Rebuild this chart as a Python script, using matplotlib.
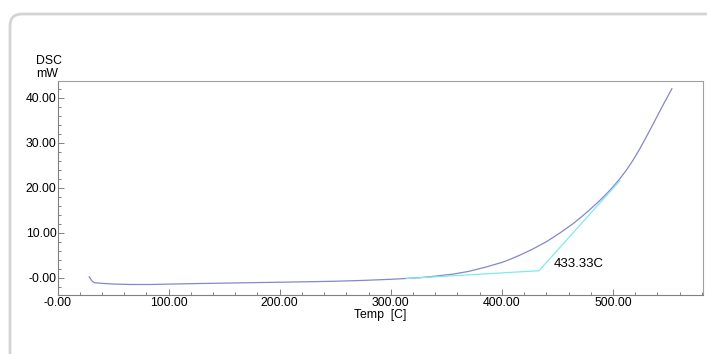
import matplotlib
matplotlib.use("Agg")
import matplotlib.pyplot as plt
from matplotlib.patches import FancyBboxPatch
from matplotlib.ticker import MultipleLocator
from matplotlib.transforms import IdentityTransform

# DSC curve
temp = [28.5, 31, 33, 40, 50, 65, 85, 100, 125, 150, 175, 200, 225, 250, 275,
        300, 315, 326, 340, 356, 370, 386, 400, 408, 416, 428, 440, 452, 464,
        472, 479, 487, 494, 500, 506, 512, 518, 524, 530, 536, 544, 553]
dsc = [0.2, -0.7, -1.1, -1.25, -1.4, -1.5, -1.5, -1.42, -1.3, -1.2, -1.1, -1.0,
       -0.9, -0.78, -0.6, -0.35, -0.15, 0.0, 0.35, 0.8, 1.4, 2.4, 3.4, 4.15,
       5.0, 6.4, 8.0, 9.9, 12.0, 13.6, 15.1, 16.9, 18.6, 20.2, 21.95, 23.9,
       26.1, 28.6, 31.3, 34.1, 37.9, 42.0]

# onset construction (baseline + tangent)
onset_t = [314, 433.33, 506]
onset_v = [-0.17, 1.55, 21.5]
onset_label = "433.33C"

x_ticks = [0, 100, 200, 300, 400, 500]
y_ticks = [0, 10, 20, 30, 40]

plt.rcParams["font.family"] = ["Liberation Sans", "DejaVu Sans"]

fig = plt.figure(figsize=(7.07, 3.54), dpi=100)
ax = fig.add_axes([57.5 / 707, 59 / 354, (703 - 57.5) / 707, (295 - 80.7) / 354])

# light rounded frame around the panel
frame = FancyBboxPatch((10, -60), 820, 354 - 14 + 60,
                       boxstyle="round,pad=0,rounding_size=12",
                       transform=IdentityTransform(), fill=False,
                       edgecolor="#d4d4d4", linewidth=2.0, zorder=-1)
fig.patches.append(frame)

ax.plot(temp, dsc, color="#8686cc", linewidth=0.9)
ax.plot(onset_t, onset_v, color="#7fe8f4", linewidth=0.9)
ax.text(447, 3.0, onset_label, fontsize=9.5, ha="left", va="center")

ax.set_xlim(0, 581)
ax.set_ylim(-3.84, 43.78)
ax.set_xticks(x_ticks)
ax.set_yticks(y_ticks)
ax.xaxis.set_minor_locator(MultipleLocator(20))
ax.yaxis.set_minor_locator(MultipleLocator(2))
ax.set_xticklabels(["-0.00"] + [f"{v:.2f}" for v in x_ticks[1:]])
ax.set_yticklabels(["-0.00"] + [f"{v:.2f}" for v in y_ticks[1:]])

for s in ax.spines.values():
    s.set_color("#a0a0a0")
    s.set_linewidth(0.8)
ax.spines["left"].set_color("#808080")
ax.spines["bottom"].set_color("#808080")

ax.tick_params(which="major", direction="in", length=4, width=0.7,
               color="#808080", labelsize=8.8, pad=1.5)
ax.tick_params(which="minor", direction="in", length=2.5, width=0.7,
               color="#808080")
ax.tick_params(axis="y", pad=0.8)

ax.set_xlabel("Temp  [C]", fontsize=8.8, labelpad=0)
fig.text(49 / 707, 1 - 61 / 354, "DSC", fontsize=8.8, ha="center", va="center")
fig.text(47 / 707, 1 - 74 / 354, "mW", fontsize=8.8, ha="center", va="center")

fig.savefig("out.png", dpi=100)
plt.close(fig)
